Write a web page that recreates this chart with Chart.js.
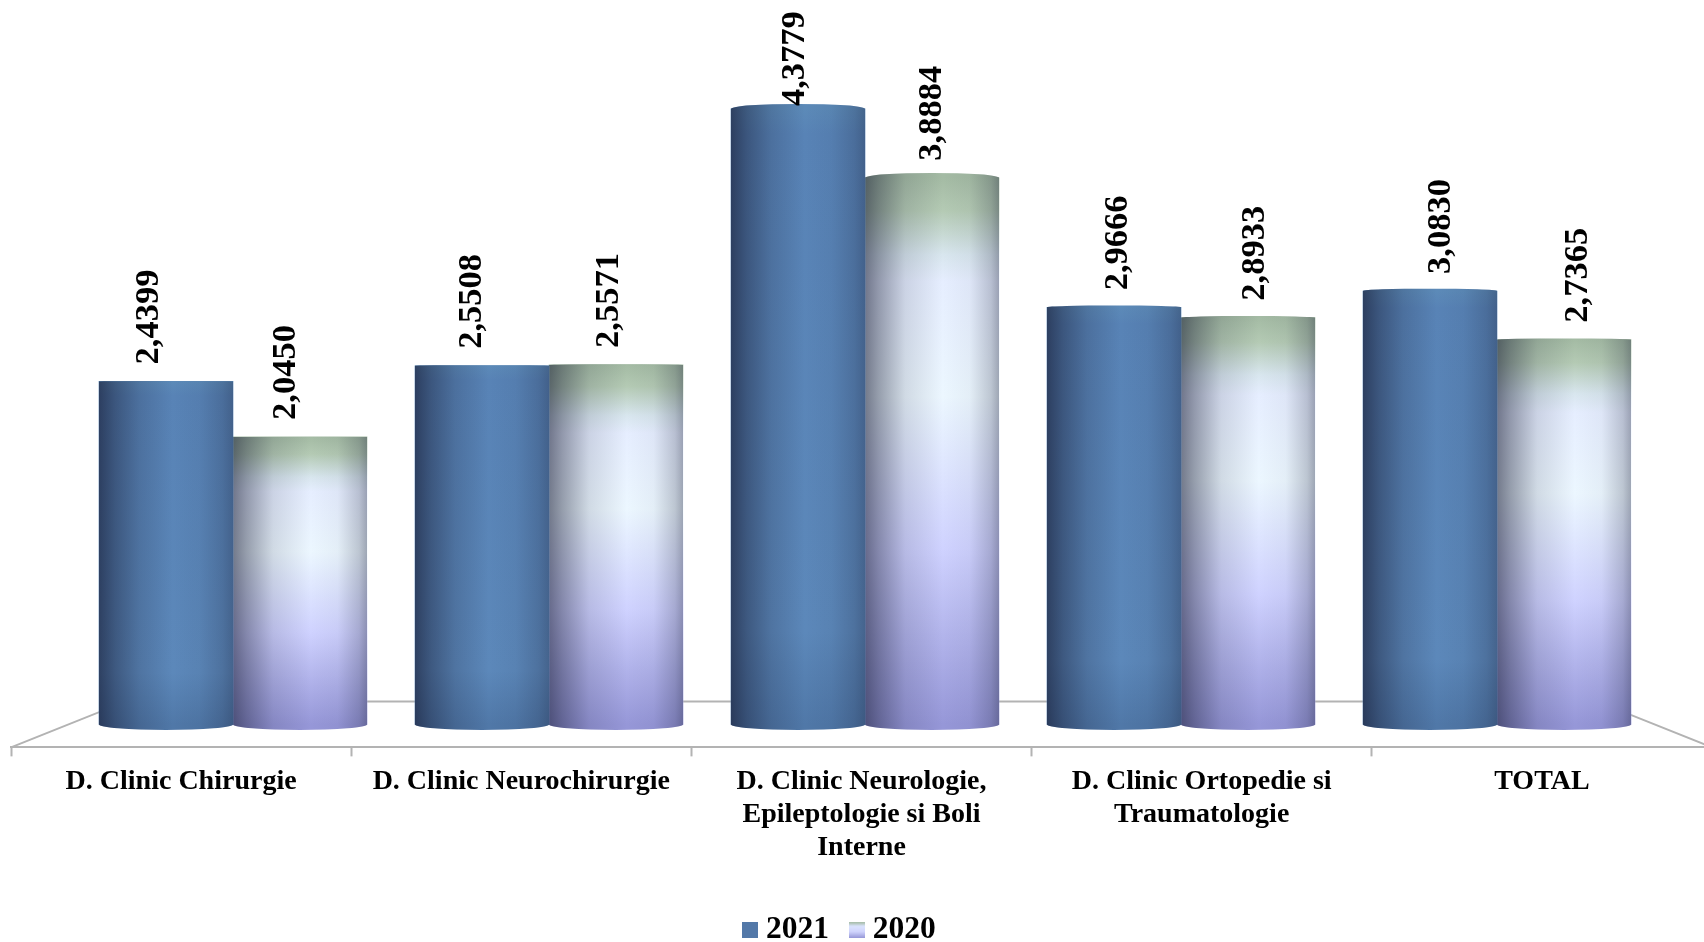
<!DOCTYPE html>
<html>
<head>
<meta charset="utf-8">
<title>Chart</title>
<script src="https://cdn.jsdelivr.net/npm/chart.js@4/dist/chart.umd.min.js"></script>
<style>
    html, body { margin: 0; padding: 0; background: #fff; overflow: hidden; }
    #wrap { position: relative; width: 1712px; height: 942px; }
</style>
</head>
<body>
<div id="wrap"><canvas id="chart"></canvas></div>
<script>
const categories = [
    "D. Clinic Chirurgie",
    "D. Clinic Neurochirurgie",
    ["D. Clinic Neurologie,", "Epileptologie si Boli", "Interne"],
    ["D. Clinic Ortopedie si", "Traumatologie"],
    "TOTAL"
];
const values2021 = [2.4399, 2.5508, 4.3779, 2.9666, 3.0830];
const values2020 = [2.0450, 2.5571, 3.8884, 2.8933, 2.7365];

const SERIF = '"Liberation Serif", "Times New Roman", serif';
const AXIS_GREY = "#b3b3b3";

/* ===========================
   CYLINDER FILLS
=========================== */

function stopsFor(gradient, stops) {
    stops.forEach(([at, color]) => gradient.addColorStop(at, color));
    return gradient;
}

const stops2021 = [[0, "#5c8ab8"], [0.04, "#5883b6"], [0.85, "#5c88ba"], [1, "#5078a8"]];
const stops2020 = [
    [0, "#a4bba4"], [0.06, "#b4cab4"], [0.14, "#d8e6ee"], [0.19, "#e6eeff"],
    [0.4, "#ecf7ff"], [0.68, "#cfd2ff"], [0.85, "#b0b2ea"], [1, "#9697d8"]
];

function barFill(stops) {
    return (context) => {
        if (context.type !== "data") return stops[0][1];
        const y = context.chart.scales.y;
        const g = context.chart.ctx.createLinearGradient(
            0, y.getPixelForValue(context.parsed.y), 0, y.getPixelForValue(0)
        );
        return stopsFor(g, stops);
    };
}

function legendSwatch(stops) {
    const c = document.createElement("canvas");
    c.width = 16;
    c.height = 16;
    const ctx = c.getContext("2d");
    ctx.fillStyle = stopsFor(ctx.createLinearGradient(0, 0, 0, 16), stops);
    ctx.fillRect(0, 0, 16, 16);
    return c;
}

function cylinderPath(ctx, el) {
    const left = el.x - el.width / 2;
    const rx = el.width / 2;
    // the top cap opens up the higher the bar rises
    const topDepth = Math.max(0, Math.min(5, (el.base - el.y - 330) / 45));
    ctx.beginPath();
    ctx.moveTo(left, el.y);
    ctx.ellipse(el.x, el.y, rx, Math.max(topDepth, 0.01), 0, Math.PI, 0, false);
    ctx.lineTo(left + el.width, el.base);
    ctx.ellipse(el.x, el.base, rx, 5.5, 0, 0, Math.PI, false);
    ctx.closePath();
}

const cylinderPlugin = {
    id: "cylinder",
    afterDatasetDraw(chart, args) {
        const ctx = chart.ctx;
        const shade = args.index === 0
            ? [[0, 0.64], [0.12, 0.42], [0.3, 0.18], [0.55, 0], [0.75, 0.05], [0.92, 0.2], [1, 0.32]]
            : [[0, 0.56], [0.1, 0.4], [0.3, 0.13], [0.58, 0], [0.78, 0.04], [0.94, 0.22], [1, 0.36]];
        ctx.save();
        args.meta.data.forEach((el) => {
            cylinderPath(ctx, el);
            ctx.fillStyle = el.options.backgroundColor;
            ctx.fill();
            const g = ctx.createLinearGradient(el.x - el.width / 2, 0, el.x + el.width / 2, 0);
            shade.forEach(([at, a]) => g.addColorStop(at, `rgba(20,24,48,${a})`));
            cylinderPath(ctx, el);
            ctx.fillStyle = g;
            ctx.fill();
        });
        ctx.restore();
    }
};

/* ===========================
   FLOOR AND VALUE LABELS
=========================== */

const floorPlugin = {
    id: "floor",
    beforeDatasetsDraw(chart) {
        const { ctx, chartArea } = chart;
        const inset = 115;
        const backY = chartArea.bottom - 46;
        ctx.save();
        ctx.strokeStyle = AXIS_GREY;
        ctx.lineWidth = 2;
        ctx.beginPath();
        ctx.moveTo(chartArea.left, chartArea.bottom);
        ctx.lineTo(chartArea.left + inset, backY);
        ctx.lineTo(chartArea.right - inset, backY);
        ctx.lineTo(chartArea.right, chartArea.bottom);
        ctx.stroke();
        ctx.restore();
    }
};

const valueLabelPlugin = {
    id: "valueLabels",
    afterDatasetsDraw(chart) {
        const ctx = chart.ctx;
        const focus = 931;
        const spread = 1.0225;
        ctx.save();
        ctx.fillStyle = "#000";
        ctx.font = `bold 34.5px ${SERIF}`;
        ctx.textAlign = "left";
        ctx.textBaseline = "middle";
        chart.data.datasets.forEach((ds, i) => {
            chart.getDatasetMeta(i).data.forEach((el, j) => {
                const text = ds.data[j].y.toFixed(4).replace(".", ",");
                ctx.save();
                ctx.translate(focus + (el.x - focus) * spread, Math.max(el.y - 17, 106));
                ctx.rotate(-Math.PI / 2);
                ctx.fillText(text, 0, 0);
                ctx.restore();
            });
        });
        ctx.restore();
    }
};

const legendNudgePlugin = {
    id: "legendNudge",
    afterLayout(chart) {
        chart.legend.left -= 19;
        chart.legend.right -= 19;
        chart.legend.top += 14;
        chart.legend.bottom += 14;
    }
};

/* ===========================
   CHART
=========================== */

function toPoints(values) {
    return values.map((v, i) => ({ x: i, y: v }));
}

new Chart(document.getElementById("chart"), {
    type: "bar",
    data: {
        labels: categories,
        datasets: [
            {
                label: "2021",
                data: toPoints(values2021),
                xAxisID: "xBars",
                backgroundColor: barFill(stops2021),
                borderWidth: 0,
                barThickness: 134
            },
            {
                label: "2020",
                data: toPoints(values2020),
                xAxisID: "xBars",
                backgroundColor: barFill(stops2020),
                borderWidth: 0,
                barThickness: 134
            }
        ]
    },
    options: {
        responsive: true,
        maintainAspectRatio: false,
        animation: false,
        layout: { padding: { left: 11, right: 0, top: 0, bottom: 0 } },
        plugins: {
            tooltip: { enabled: false },
            legend: {
                display: true,
                position: "bottom",
                labels: {
                    usePointStyle: true,
                    boxWidth: 1,
                    padding: 27,
                    color: "#000",
                    font: { family: SERIF, size: 31.5, weight: "bold" },
                    generateLabels() {
                        return [
                            { text: "2021", pointStyle: legendSwatch([[0, "#5378a8"], [1, "#5378a8"]]), datasetIndex: 0, lineWidth: 0 },
                            { text: "2020", pointStyle: legendSwatch([[0, "#a4bba4"], [0.25, "#dbe4ff"], [0.6, "#cfd3fc"], [1, "#9495d6"]]), datasetIndex: 1, lineWidth: 0 }
                        ];
                    }
                }
            }
        },
        scales: {
            x: {
                type: "category",
                offset: true,
                position: "bottom",
                border: { display: true, color: AXIS_GREY, width: 2 },
                grid: {
                    display: true,
                    offset: true,
                    drawOnChartArea: false,
                    drawTicks: true,
                    tickLength: 9,
                    tickWidth: 2,
                    tickColor: AXIS_GREY
                },
                ticks: {
                    padding: 9,
                    maxRotation: 0,
                    autoSkip: false,
                    color: "#000",
                    font: { family: SERIF, size: 28, weight: "bold", lineHeight: 1.18 }
                }
            },
            xBars: {
                type: "linear",
                axis: "x",
                display: false,
                offset: false,
                min: -222 / 316,
                max: 1479 / 316
            },
            y: {
                display: false,
                min: -23 / 141,
                max: 726.5 / 141
            }
        }
    },
    plugins: [floorPlugin, cylinderPlugin, valueLabelPlugin, legendNudgePlugin]
});
</script>
</body>
</html>
